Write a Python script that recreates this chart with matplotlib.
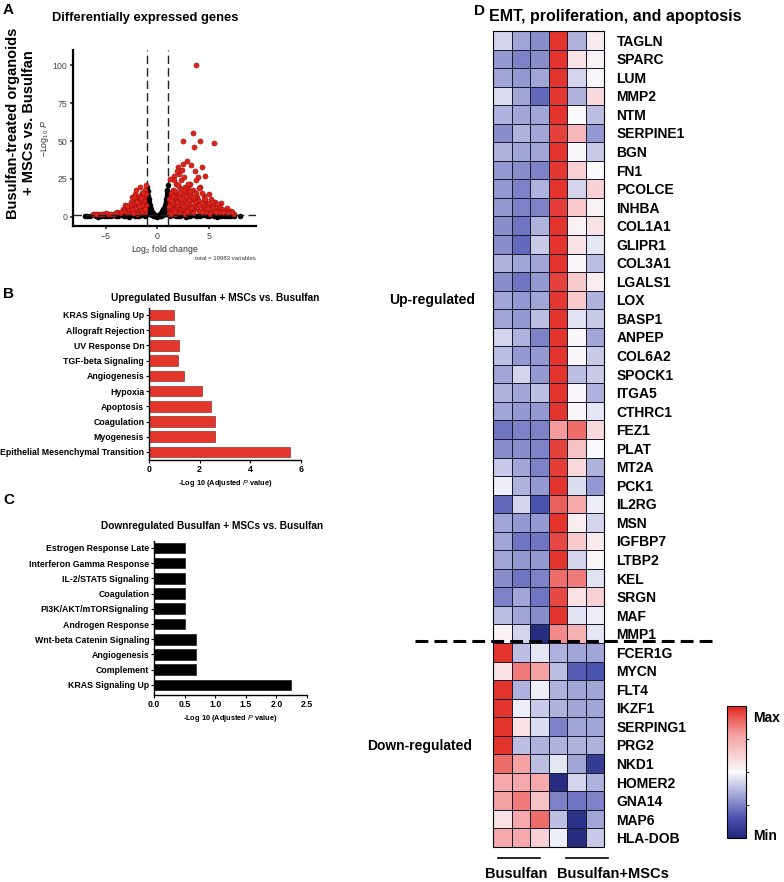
import matplotlib
matplotlib.use("Agg")
import matplotlib.pyplot as plt
import numpy as np
from matplotlib.colors import LinearSegmentedColormap

plt.rcParams['font.family'] = ['Liberation Sans', 'DejaVu Sans']
plt.rcParams['mathtext.fontset'] = 'custom'
plt.rcParams['mathtext.rm'] = 'Liberation Sans'
plt.rcParams['mathtext.it'] = 'Liberation Sans:italic'

W, H = 784, 882

# ---------------- data ----------------
# volcano
red_x = [3.8, 5.5, 3.5, 2.5, 4.2, 3.6, 2.9, 3.3, 2.5, 2.0, 4.3, 3.7, 2.1, 1.6, 4.0, 3.8, 3.2, 4.6,
         4.2, 3.5, 2.8, 5.0, 4.5, 3.9, 5.6, 6.2, 6.8, 7.2, 5.9, 5.3, 4.8, 4.4, 3.9, 3.3, 2.9, 2.5,
         2.2, 1.8, 1.5, 1.3, 1.2, 1.6, 2.0, 2.4, 2.8, 3.1, 3.6, 4.1, 4.7, 5.2, 5.8, 6.5, 1.1, 1.4,
         1.9, 2.3, 2.7, 3.0, 3.4, 1.2, 1.7, 2.1, 1.5, 1.9, 2.6, 3.2, 2.3, 2.7, 1.4, 1.8, 2.5, 3.0,
         3.5, 4.0, 4.3, 5.2, 6.0, 6.6, 7.0, 7.5, 1.3, 1.1, 1.6, 2.0, 1.25, 1.35, 1.45, 1.7, 2.2,
         2.9, 3.7, 4.6, 5.5, 6.3, 3.0, 1.2, 2.6, 1.9, 2.4,
         1.1, 1.3, 1.5, 1.7, 1.9, 2.1, 2.3, 2.5, 2.7, 2.9, 3.1, 3.3, 3.5, 3.7, 3.9, 4.1, 4.3, 4.5,
         4.7, 4.9, 5.1, 5.4, 5.7, 6.1, 6.4, 6.9, 7.3,
         1.15, 1.35, 1.55, 1.75, 1.95, 2.15, 2.35, 2.55, 2.75, 2.95, 3.15, 3.45, 3.75, 4.05, 4.35,
         4.65, 5.05, 5.45, 5.85,
         -1.2, -1.5, -1.8, -2.2, -2.5, -1.3, -1.6, -2.0, -2.4, -2.9, -3.3, -1.1, -1.4, -1.8, -2.2,
         -2.7, -3.0, -3.6, -4.2, -4.8, -5.3, -5.8, -6.3, -1.2, -1.6, -2.0, -1.3, -1.9, -2.6, -2.1,
         -1.7, -3.1, -1.1, -1.45, -2.4, -3.9, -4.5, -5.0, -1.25, -2.8,
         -1.1, -1.3, -1.5, -1.7, -1.9, -2.1, -2.3, -2.5, -2.7, -3.2, -3.5, -1.15, -1.35, -1.55,
         -1.75, -1.95, -2.3, -2.9, -4.0, -5.5, -6.0]
red_y = [100, 49, 55, 50, 50, 46, 37, 34, 35, 33, 33, 30, 28, 27, 26, 24, 22, 27,
         20, 18, 17, 15, 14, 13, 10, 9, 6, 4, 5, 7, 9, 6, 9, 11, 13, 15,
         19, 22, 18, 14, 10, 8, 12, 9, 6, 8, 5, 4, 3, 3, 2.5, 2.5, 5, 3,
         4, 3, 3.5, 2.5, 3, 2, 2, 6, 11, 15, 11, 15, 24, 20, 7, 6, 5, 4.5,
         7, 11, 16, 12, 7, 4, 3, 2.2, 16, 12, 24, 21, 3.5, 6, 9, 13, 16,
         9, 10, 7, 4.5, 5.5, 20, 25, 26, 30, 31,
         1.8, 2.2, 4.5, 3.2, 8, 2.5, 5.5, 7.5, 2.2, 4, 11, 6, 2.8, 13, 6.5, 8, 3, 11,
         5, 6, 2, 8, 3.5, 3, 3.5, 2.5, 3,
         7, 11, 13.5, 17, 10, 13, 12, 18, 14, 22, 17, 13, 16, 19, 9,
         12, 9, 6.5, 8.5,
         18, 16, 14, 15, 13, 12, 10, 9, 7, 6, 5, 8, 6, 5, 4,
         3.5, 3, 2.5, 2.2, 2, 1.8, 1.7, 1.6, 3, 2.5, 2.2, 14, 12, 10, 18,
         20, 8, 21, 3.8, 2.6, 3.5, 1.8, 2.5, 9.5, 5,
         15, 10.5, 8, 11, 7, 11, 9, 5.5, 8, 4, 3.5, 5, 16, 12.5,
         7.5, 10, 13, 7, 2.8, 2.2, 2]
black_x = [-1.0, -0.95, -0.9, -0.85, -0.8, -0.75, -0.7, -0.6, -0.5, -0.4, -0.3, -0.2, -0.1, 0.0,
           0.1, 0.2, 0.3, 0.4, 0.5, 0.6, 0.7, 0.75, 0.8, 0.85, 0.9, 0.95, 1.0,
           -0.9, -0.8, -0.7, -0.6, -0.5, -0.9, -0.95, 0.9, 0.8, 0.7, 0.6, 0.5, 0.9, 0.95,
           -0.3, 0.3, -0.98, 0.98, -0.85, 0.85, -0.65, 0.65, -0.92, 0.92,
           -0.97, -0.88, -0.78, -0.65, -0.55, -0.45, -0.35, 0.35, 0.45, 0.55, 0.65, 0.78, 0.88,
           0.97, -0.99, 0.99,
           -7.0, -6.5, -6.0, -5.5, -5.0, -4.5, -4.0, -3.5, -3.0, -2.5, -2.0, -1.5, -1.2,
           1.2, 1.5, 2.0, 2.5, 3.0, 3.5, 4.0, 4.5, 5.0, 5.5, 6.0, 6.5, 7.0, 7.5, 8.0,
           -6.8, -5.8, -4.8, -3.8, -2.8, -1.8, 1.8, 2.8, 3.8, 4.8, 5.8, 6.8,
           -6.2, -5.2, -4.2, -3.2, -2.2, -1.1, 1.1, 2.2, 3.2, 4.2, 5.2, 6.2, 7.2]
black_y = [20, 17, 14, 12, 10, 8, 6.5, 5, 3.5, 2.5, 1.5, 1, 0.5, 0.2,
           0.5, 1, 1.6, 2.6, 3.6, 5, 6.5, 8, 10, 12, 14, 17, 21,
           8, 5, 3, 2, 1, 3, 6, 8, 5, 3, 2, 1, 3, 6,
           0.3, 0.3, 11, 11, 2, 2, 4, 4, 11, 11,
           15, 10, 7, 2.5, 1.5, 1.2, 0.8, 0.8, 1.2, 1.5, 2.5, 7, 10,
           15, 18, 18,
           0.3, 0.6, 0.4, 0.8, 0.5, 0.9, 0.6, 1.0, 0.7, 1.1, 0.8, 1.0, 0.5,
           0.6, 1.0, 0.8, 1.1, 0.6, 1.0, 0.7, 1.1, 0.5, 0.9, 0.4, 0.8, 0.3, 0.6, 0.3,
           0.9, 0.2, 0.3, 0.4, 0.2, 0.3, 0.3, 0.2, 0.4, 0.3, 0.2, 0.5,
           1.0, 0.7, 1.1, 0.6, 0.9, 1.1, 1.0, 0.6, 0.9, 0.7, 1.0, 0.6, 0.8]

up_terms = ['Epithelial Mesenchymal Transition', 'Myogenesis', 'Coagulation', 'Apoptosis',
            'Hypoxia', 'Angiogenesis', 'TGF-beta Signaling', 'UV Response Dn',
            'Allograft Rejection', 'KRAS Signaling Up']
up_vals = [5.57, 2.6, 2.6, 2.43, 2.1, 1.4, 1.15, 1.17, 0.98, 1.0]

down_terms = ['KRAS Signaling Up', 'Complement', 'Angiogenesis', 'Wnt-beta Catenin Signaling',
              'Androgen Response', 'PI3K/AKT/mTORSignaling', 'Coagulation',
              'IL-2/STAT5 Signaling', 'Interferon Gamma Response', 'Estrogen Response Late']
down_vals = [2.24, 0.68, 0.68, 0.68, 0.5, 0.5, 0.5, 0.5, 0.5, 0.5]

genes = ['TAGLN', 'SPARC', 'LUM', 'MMP2', 'NTM', 'SERPINE1', 'BGN', 'FN1', 'PCOLCE', 'INHBA',
         'COL1A1', 'GLIPR1', 'COL3A1', 'LGALS1', 'LOX', 'BASP1', 'ANPEP', 'COL6A2', 'SPOCK1',
         'ITGA5', 'CTHRC1', 'FEZ1', 'PLAT', 'MT2A', 'PCK1', 'IL2RG', 'MSN', 'IGFBP7', 'LTBP2',
         'KEL', 'SRGN', 'MAF', 'MMP1',
         'FCER1G', 'MYCN', 'FLT4', 'IKZF1', 'SERPING1', 'PRG2', 'NKD1', 'HOMER2', 'GNA14',
         'MAP6', 'HLA-DOB']
expr = [
    [-0.15, -0.35, -0.45, 0.95, -0.3, 0.1],
    [-0.4, -0.5, -0.45, 0.95, 0.15, 0.05],
    [-0.35, -0.4, -0.35, 0.95, -0.15, 0.02],
    [-0.12, -0.35, -0.6, 0.93, -0.3, 0.2],
    [-0.3, -0.35, -0.35, 0.95, 0.0, -0.25],
    [-0.45, -0.3, -0.35, 0.9, 0.4, -0.4],
    [-0.3, -0.35, -0.35, 0.95, 0.02, -0.2],
    [-0.4, -0.45, -0.5, 0.93, 0.25, 0.0],
    [-0.4, -0.5, -0.3, 0.95, -0.15, 0.25],
    [-0.4, -0.5, -0.5, 0.92, 0.3, 0.05],
    [-0.45, -0.55, -0.3, 0.95, 0.05, 0.15],
    [-0.45, -0.6, -0.2, 0.95, 0.15, -0.08],
    [-0.3, -0.35, -0.35, 0.95, 0.02, -0.25],
    [-0.45, -0.55, -0.4, 0.9, 0.3, 0.08],
    [-0.35, -0.4, -0.35, 0.93, 0.3, -0.3],
    [-0.35, -0.4, -0.25, 0.95, -0.1, -0.2],
    [-0.15, -0.3, -0.5, 0.95, 0.02, -0.35],
    [-0.25, -0.4, -0.4, 0.95, 0.02, -0.2],
    [-0.35, -0.15, -0.4, 0.95, -0.25, -0.2],
    [-0.3, -0.35, -0.25, 0.95, 0.02, -0.3],
    [-0.35, -0.4, -0.4, 0.95, 0.02, -0.08],
    [-0.55, -0.5, -0.5, 0.6, 0.75, 0.2],
    [-0.45, -0.45, -0.5, 0.9, 0.35, 0.0],
    [-0.2, -0.35, -0.5, 0.92, 0.2, -0.3],
    [-0.05, -0.3, -0.4, 0.95, -0.12, -0.4],
    [-0.6, -0.15, -0.7, 0.8, 0.5, -0.05],
    [-0.35, -0.4, -0.4, 0.95, 0.08, -0.15],
    [-0.35, -0.55, -0.55, 0.88, 0.3, 0.1],
    [-0.35, -0.4, -0.4, 0.95, -0.15, 0.03],
    [-0.45, -0.55, -0.5, 0.75, 0.7, -0.1],
    [-0.5, -0.35, -0.55, 0.88, 0.15, 0.25],
    [-0.25, -0.35, -0.45, 0.95, -0.1, -0.05],
    [0.05, -0.15, -0.95, 0.65, 0.45, -0.08],
    [0.95, -0.25, -0.08, -0.3, -0.35, -0.35],
    [0.15, 0.7, 0.55, -0.25, -0.65, -0.7],
    [0.95, -0.3, -0.05, -0.3, -0.35, -0.35],
    [0.95, -0.05, -0.2, -0.3, -0.35, -0.35],
    [0.95, 0.15, -0.12, -0.5, -0.35, -0.35],
    [0.95, -0.25, -0.3, -0.3, -0.3, -0.3],
    [0.75, 0.55, -0.25, -0.08, -0.35, -0.85],
    [0.5, 0.5, 0.5, -0.95, -0.15, -0.3],
    [0.55, 0.7, 0.35, -0.5, -0.55, -0.5],
    [0.15, 0.5, 0.75, -0.25, -0.9, -0.35],
    [0.5, 0.5, 0.25, -0.05, -0.95, -0.2],
]


def box(l, t, r, b):
    return [l / W, 1 - b / H, (r - l) / W, (b - t) / H]


fig = plt.figure(figsize=(W / 100, H / 100), dpi=100)

# ---------------- panel A : volcano ----------------
ax = fig.add_axes(box(73, 50, 256, 226))
ax.scatter(black_x, black_y, s=16, c='black', lw=0, zorder=2)
ax.scatter(red_x, red_y, s=14, c='#e2231a', edgecolors='#7a0c0c', linewidths=0.3, zorder=3)
for v in (-1, 1):
    ax.axvline(v, color='#222222', ls=(0, (6, 3)), lw=1.0, zorder=1)
ax.axhline(-np.log10(0.05), color='#222222', ls=(0, (6, 3)), lw=1.0, zorder=4)
ax.set_xlim(-8.2, 9.6)
ax.set_ylim(-6, 110)
ax.set_xticks([-5, 0, 5])
ax.set_yticks([0, 25, 50, 75, 100])
for s in ('top', 'right'):
    ax.spines[s].set_visible(False)
for s in ('left', 'bottom'):
    ax.spines[s].set_linewidth(1.6)
ax.tick_params(labelsize=6.3, length=2.5, width=1.2, colors='#333333', labelcolor='#444444',
               pad=1.5)
ax.set_xlabel(r'$\mathrm{Log}_{2}$ fold change', fontsize=6.3, color='#333333', labelpad=2)
ax.set_ylabel(r'$-\mathrm{Log}_{10}\ \mathit{P}$', fontsize=6.3, color='#333333', labelpad=1)
fig.text(256 / W, 1 - 258 / H, 'total = 19983 variables', fontsize=4.3, ha='right',
         va='center', color='#333333')
fig.text(145 / W, 1 - 18 / H, 'Differentially expressed genes', fontsize=9.3,
         fontweight='bold', ha='center', va='center')
fig.text(21 / W, 1 - 123 / H, 'Busulfan-treated organoids\n+ MSCs vs. Busulfan',
         fontsize=10.5, fontweight='bold', rotation=90, ha='center', va='center',
         linespacing=1.15)

# ---------------- panel B ----------------
bx = fig.add_axes(box(149, 308, 301, 460))
bx.barh(range(len(up_terms)), up_vals, height=0.7, color='#e3372b', edgecolor='#7a1a12',
        linewidth=0.4)
bx.set_yticks(range(len(up_terms)))
bx.set_yticklabels(up_terms)
bx.set_xlim(0, 6)
bx.set_xticks([0, 2, 4, 6])
bx.set_ylim(-0.53, 9.46)
bx.set_xlabel(r'-Log 10 (Adjusted $\mathit{P}$ value)', fontsize=5.3, fontweight='bold',
              labelpad=3)
fig.text(215 / W, 1 - 298 / H, 'Upregulated Busulfan + MSCs vs. Busulfan', fontsize=7.3,
         fontweight='bold', ha='center', va='center')

# ---------------- panel C ----------------
cx = fig.add_axes(box(154, 541, 307, 695))
cx.barh(range(len(down_terms)), down_vals, height=0.7, color='black', edgecolor='black',
        linewidth=0.4)
cx.set_yticks(range(len(down_terms)))
cx.set_yticklabels(down_terms)
cx.set_xlim(0, 2.5)
cx.set_xticks([0, 0.5, 1.0, 1.5, 2.0, 2.5])
cx.set_xticklabels(['0.0', '0.5', '1.0', '1.5', '2.0', '2.5'])
cx.set_ylim(-0.66, 9.45)
cx.set_xlabel(r'-Log 10 (Adjusted $\mathit{P}$ value)', fontsize=5.3, fontweight='bold',
              labelpad=3)
fig.text(212 / W, 1 - 526 / H, 'Downregulated Busulfan + MSCs vs. Busulfan', fontsize=7.3,
         fontweight='bold', ha='center', va='center')

for a in (bx, cx):
    for s in ('top', 'right'):
        a.spines[s].set_visible(False)
    for s in ('left', 'bottom'):
        a.spines[s].set_linewidth(1.0)
    a.tick_params(labelsize=6.3, length=2, width=0.8, pad=1.5)
    for lab in a.get_yticklabels() + a.get_xticklabels():
        lab.set_fontweight('bold')

# ---------------- panel D : heatmap ----------------
cmap = LinearSegmentedColormap.from_list(
    'bwr_custom', [(0, '#1f2678'), (0.15, '#4a52b0'), (0.5, '#fafafd'),
                   (0.8, '#f49a9a'), (1, '#e0261f')])
dx = fig.add_axes(box(493, 31, 604, 847))
data = np.array(expr)
dx.pcolormesh(data, cmap=cmap, vmin=-1, vmax=1, edgecolors='#1a1a2e', linewidth=0.6)
dx.set_ylim(len(genes), 0)
dx.set_xlim(0, 6)
dx.yaxis.tick_right()
dx.set_yticks(np.arange(len(genes)) + 0.5)
dx.set_yticklabels(genes, fontsize=10, fontweight='bold')
dx.tick_params(axis='y', length=0, pad=9)
dx.set_xticks([])
for s in dx.spines.values():
    s.set_linewidth(0.8)

fig.text(615 / W, 1 - 17 / H, 'EMT, proliferation, and apoptosis', fontsize=11.5,
         fontweight='bold', ha='center', va='center')
fig.text(475 / W, 1 - 300 / H, 'Up-regulated', fontsize=10, fontweight='bold',
         ha='right', va='center')
fig.text(472 / W, 1 - 746 / H, 'Down-regulated', fontsize=10, fontweight='bold',
         ha='right', va='center')
fig.add_artist(plt.Line2D([415 / W, 712 / W], [1 - 641 / H, 1 - 641 / H], color='black',
                          lw=2.2, ls=(0, (4.2, 2.0))))
fig.add_artist(plt.Line2D([498 / W, 540 / W], [1 - 858 / H] * 2, color='black', lw=1.2))
fig.add_artist(plt.Line2D([566 / W, 608 / W], [1 - 858 / H] * 2, color='black', lw=1.2))
fig.text(516 / W, 1 - 874 / H, 'Busulfan', fontsize=10.5, fontweight='bold', ha='center',
         va='center')
fig.text(613 / W, 1 - 874 / H, 'Busulfan+MSCs', fontsize=10.5, fontweight='bold',
         ha='center', va='center')

# colorbar
cax = fig.add_axes(box(727, 706, 746, 838))
sm = matplotlib.cm.ScalarMappable(cmap=cmap, norm=matplotlib.colors.Normalize(-1, 1))
cb = fig.colorbar(sm, cax=cax)
cb.set_ticks([-0.5, 0, 0.5])
cb.set_ticklabels([])
cb.ax.tick_params(length=2, width=0.6)
cb.outline.set_linewidth(0.8)
fig.text(753 / W, 1 - 718 / H, 'Max', fontsize=10, fontweight='bold', ha='left',
         va='center')
fig.text(753 / W, 1 - 836 / H, 'Min', fontsize=10, fontweight='bold', ha='left',
         va='center')

# panel letters
for lab, x, y in (('A', 3, 10), ('B', 3, 294), ('C', 3, 500), ('D', 474, 11)):
    fig.text(x / W, 1 - y / H, lab, fontsize=11, fontweight='bold', ha='left', va='center')

fig.savefig('out.png', dpi=100)
